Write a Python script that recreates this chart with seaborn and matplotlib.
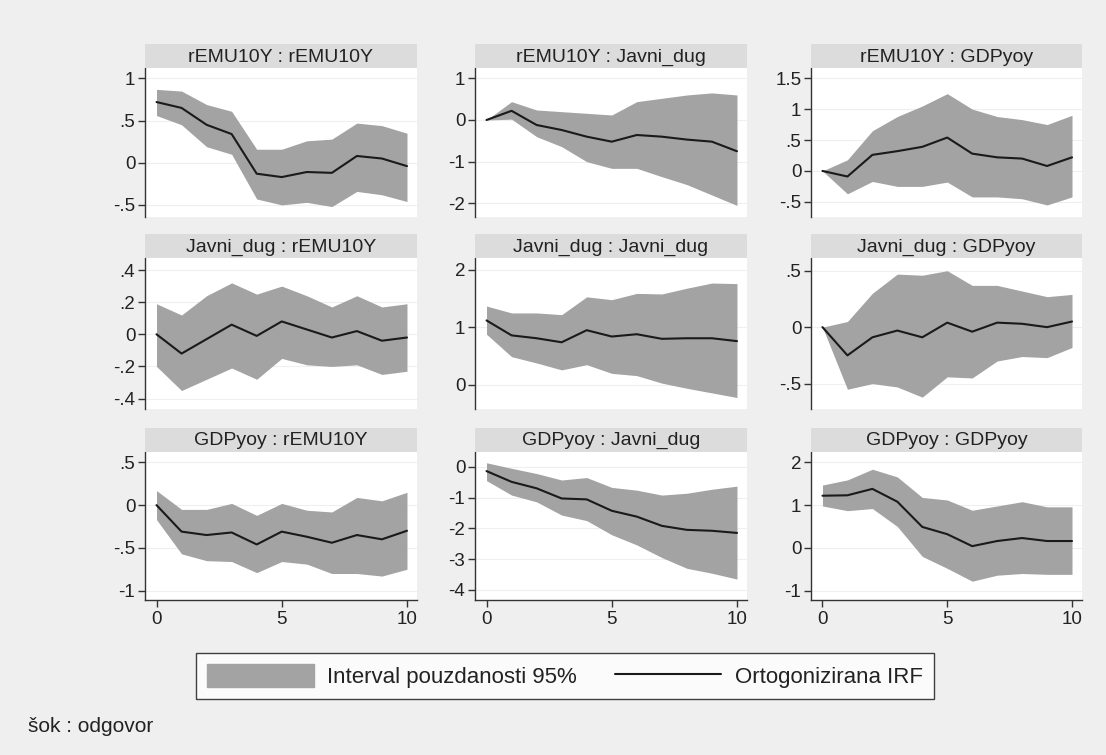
import numpy as np
import pandas as pd
import seaborn as sns
import matplotlib
matplotlib.use("Agg")
import matplotlib.pyplot as plt
from matplotlib.patches import Patch
from matplotlib.lines import Line2D
from matplotlib.ticker import FuncFormatter

# horizon steps
steps = list(range(11))

# shock rEMU10Y
r_r_irf = [0.72, 0.65, 0.45, 0.34, -0.13, -0.17, -0.11, -0.12, 0.08, 0.05, -0.04]
r_r_lo = [0.56, 0.45, 0.19, 0.10, -0.43, -0.50, -0.47, -0.52, -0.34, -0.38, -0.46]
r_r_hi = [0.87, 0.85, 0.69, 0.61, 0.16, 0.16, 0.26, 0.28, 0.47, 0.44, 0.35]

r_j_irf = [0.0, 0.22, -0.12, -0.24, -0.40, -0.52, -0.36, -0.40, -0.47, -0.52, -0.75]
r_j_lo = [0.0, 0.02, -0.40, -0.64, -1.00, -1.16, -1.16, -1.36, -1.55, -1.80, -2.05]
r_j_hi = [0.0, 0.44, 0.24, 0.20, 0.16, 0.12, 0.44, 0.52, 0.60, 0.65, 0.60]

r_g_irf = [0.0, -0.09, 0.26, 0.32, 0.39, 0.54, 0.28, 0.22, 0.20, 0.08, 0.22]
r_g_lo = [0.0, -0.37, -0.17, -0.25, -0.25, -0.18, -0.42, -0.42, -0.45, -0.55, -0.42]
r_g_hi = [0.0, 0.18, 0.65, 0.88, 1.05, 1.25, 1.00, 0.88, 0.83, 0.75, 0.90]

# shock Javni_dug
j_r_irf = [0.0, -0.12, -0.03, 0.06, -0.01, 0.08, 0.03, -0.02, 0.02, -0.04, -0.02]
j_r_lo = [-0.20, -0.35, -0.28, -0.21, -0.28, -0.15, -0.19, -0.20, -0.19, -0.25, -0.23]
j_r_hi = [0.19, 0.12, 0.24, 0.32, 0.25, 0.30, 0.24, 0.17, 0.24, 0.17, 0.19]

j_j_irf = [1.12, 0.86, 0.81, 0.74, 0.95, 0.84, 0.88, 0.80, 0.81, 0.81, 0.76]
j_j_lo = [0.88, 0.49, 0.38, 0.26, 0.35, 0.20, 0.16, 0.03, -0.06, -0.14, -0.22]
j_j_hi = [1.37, 1.25, 1.25, 1.22, 1.53, 1.48, 1.59, 1.58, 1.68, 1.77, 1.76]

j_g_irf = [0.0, -0.25, -0.09, -0.03, -0.09, 0.04, -0.04, 0.04, 0.03, 0.0, 0.05]
j_g_lo = [0.0, -0.55, -0.50, -0.53, -0.62, -0.44, -0.45, -0.30, -0.26, -0.27, -0.18]
j_g_hi = [0.0, 0.05, 0.30, 0.47, 0.46, 0.50, 0.37, 0.37, 0.32, 0.27, 0.29]

# shock GDPyoy
g_r_irf = [0.0, -0.31, -0.35, -0.32, -0.46, -0.31, -0.37, -0.44, -0.35, -0.40, -0.30]
g_r_lo = [-0.17, -0.57, -0.65, -0.66, -0.79, -0.66, -0.69, -0.80, -0.80, -0.83, -0.75]
g_r_hi = [0.17, -0.05, -0.05, 0.02, -0.12, 0.02, -0.06, -0.08, 0.09, 0.05, 0.15]

g_j_irf = [-0.14, -0.49, -0.70, -1.03, -1.06, -1.43, -1.62, -1.92, -2.05, -2.08, -2.15]
g_j_lo = [-0.45, -0.92, -1.14, -1.57, -1.75, -2.21, -2.54, -2.95, -3.30, -3.46, -3.65]
g_j_hi = [0.13, -0.05, -0.22, -0.43, -0.35, -0.67, -0.76, -0.92, -0.86, -0.73, -0.63]

g_g_irf = [1.22, 1.23, 1.38, 1.08, 0.49, 0.32, 0.04, 0.16, 0.23, 0.16, 0.16]
g_g_lo = [0.98, 0.87, 0.92, 0.50, -0.20, -0.48, -0.78, -0.64, -0.60, -0.62, -0.62]
g_g_hi = [1.47, 1.59, 1.84, 1.66, 1.18, 1.12, 0.88, 0.98, 1.08, 0.96, 0.96]

titles = [
    "rEMU10Y : rEMU10Y", "rEMU10Y : Javni_dug", "rEMU10Y : GDPyoy",
    "Javni_dug : rEMU10Y", "Javni_dug : Javni_dug", "Javni_dug : GDPyoy",
    "GDPyoy : rEMU10Y", "GDPyoy : Javni_dug", "GDPyoy : GDPyoy",
]
series = [
    (r_r_irf, r_r_lo, r_r_hi), (r_j_irf, r_j_lo, r_j_hi), (r_g_irf, r_g_lo, r_g_hi),
    (j_r_irf, j_r_lo, j_r_hi), (j_j_irf, j_j_lo, j_j_hi), (j_g_irf, j_g_lo, j_g_hi),
    (g_r_irf, g_r_lo, g_r_hi), (g_j_irf, g_j_lo, g_j_hi), (g_g_irf, g_g_lo, g_g_hi),
]
yticks = [
    [-0.5, 0, 0.5, 1], [-2, -1, 0, 1], [-0.5, 0, 0.5, 1, 1.5],
    [-0.4, -0.2, 0, 0.2, 0.4], [0, 1, 2], [-0.5, 0, 0.5],
    [-1, -0.5, 0, 0.5], [-4, -3, -2, -1, 0], [-1, 0, 1, 2],
]
ylims = [
    (-0.64, 1.12), (-2.32, 1.24), (-0.74, 1.66),
    (-0.465, 0.473), (-0.42, 2.2), (-0.725, 0.61),
    (-1.11, 0.625), (-4.33, 0.49), (-1.22, 2.25),
]

frames = []
for t, (irf, lo, hi) in zip(titles, series):
    frames.append(pd.DataFrame({"panel": t, "step": steps, "irf": irf, "lo": lo, "hi": hi}))
df = pd.concat(frames, ignore_index=True)

sns.set_style("white")
plt.rcParams["font.family"] = ["Liberation Sans", "DejaVu Sans"]

W, H = 1106, 755
BG = "#efefef"
fig = plt.figure(figsize=(W / 100, H / 100), dpi=100, facecolor=BG)

cols = [(145, 417), (475, 747), (811, 1082)]
rows = [(68.3, 216.7), (258.3, 409), (451.7, 600)]
strip_h = 24


def stata_fmt(v, pos=None):
    s = f"{v:g}"
    if s.startswith("0."):
        s = s[1:]
    elif s.startswith("-0."):
        s = "-" + s[2:]
    return s


band_color = "#a3a3a3"
line_color = "#1a1a1a"

for i, t in enumerate(titles):
    r, c = divmod(i, 3)
    x0, x1 = cols[c]
    y0, y1 = rows[r]
    ax = fig.add_axes([x0 / W, 1 - y1 / H, (x1 - x0) / W, (y1 - y0) / H])
    ax.set_facecolor("white")
    sub = df[df["panel"] == t]
    ax.fill_between(sub["step"], sub["lo"], sub["hi"], color=band_color, lw=0)
    sns.lineplot(data=sub, x="step", y="irf", ax=ax, color=line_color, lw=1.5)
    ax.set_xlim(-0.46, 10.4)
    ax.set_ylim(*ylims[i])
    ax.set_yticks(yticks[i])
    ax.yaxis.set_major_formatter(FuncFormatter(stata_fmt))
    ax.grid(axis="y", color="#efefef", lw=0.8)
    ax.set_axisbelow(True)
    ax.set_xlabel("")
    ax.set_ylabel("")
    for s in ["top", "right"]:
        ax.spines[s].set_visible(False)
    ax.spines["left"].set_color("#333333")
    ax.spines["left"].set_linewidth(1.0)
    ax.tick_params(axis="y", direction="out", length=5, width=1, color="#333333",
                   labelsize=13.5, pad=2, left=True, labelcolor="#222222")
    if r == 2:
        ax.set_xticks([0, 5, 10])
        ax.spines["bottom"].set_color("#333333")
        ax.spines["bottom"].set_linewidth(1.0)
        ax.tick_params(axis="x", direction="out", length=5, width=1, color="#333333",
                       labelsize=13.5, pad=3, bottom=True, labelcolor="#222222")
    else:
        ax.set_xticks([])
        ax.spines["bottom"].set_visible(False)

    sax = fig.add_axes([x0 / W, 1 - y0 / H, (x1 - x0) / W, strip_h / H])
    sax.set_facecolor("#dcdcdc")
    sax.set_xticks([])
    sax.set_yticks([])
    for s in sax.spines.values():
        s.set_visible(False)
    sax.text(0.5, 0.45, t, ha="center", va="center", fontsize=14, color="#222222",
             transform=sax.transAxes)

handles = [Patch(facecolor=band_color, edgecolor=band_color),
           Line2D([0], [0], color=line_color, lw=1.5)]
labels = ["Interval pouzdanosti 95%", "Ortogonizirana IRF"]
leg = fig.legend(handles, labels, loc="center", bbox_to_anchor=(565 / W, 1 - 676 / H),
                 ncol=2, frameon=True, fancybox=False, fontsize=16,
                 handlelength=4.8, handleheight=1.2, columnspacing=1.7,
                 handletextpad=0.6, borderpad=0.5)
leg.get_frame().set_edgecolor("#111111")
leg.get_frame().set_linewidth(1.0)
leg.get_frame().set_facecolor("white")
for txt in leg.get_texts():
    txt.set_color("#222222")

fig.text(28 / W, 1 - 726 / H, "šok : odgovor", ha="left", va="center", fontsize=15,
         color="#222222")

fig.savefig("out.png", dpi=100, facecolor=BG)
